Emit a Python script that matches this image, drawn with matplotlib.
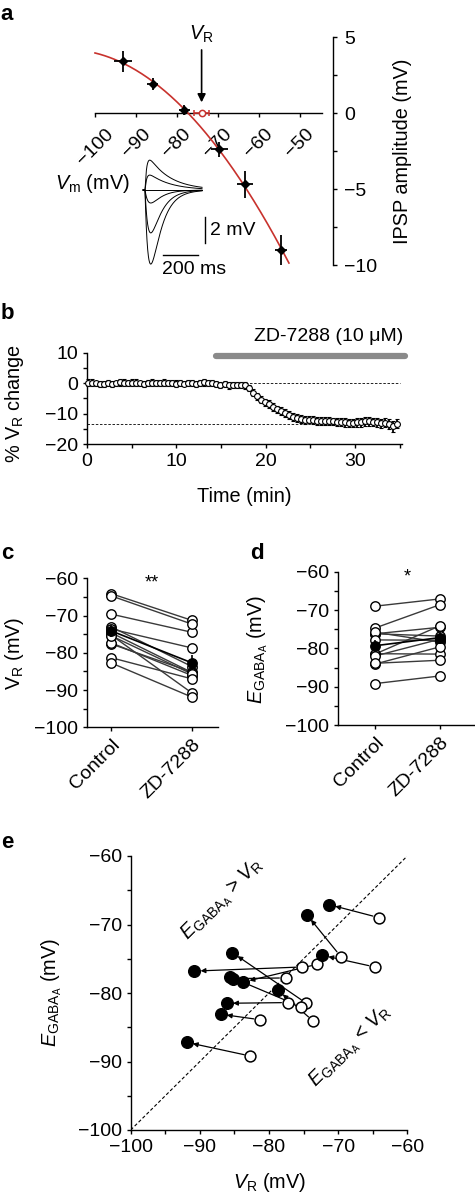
import numpy as np
import matplotlib
matplotlib.use("Agg")
import matplotlib.pyplot as plt
from matplotlib.ticker import MultipleLocator

plt.rcParams["font.family"] = ["Liberation Sans", "DejaVu Sans"]
plt.rcParams["mathtext.fontset"] = "custom"
plt.rcParams["mathtext.rm"] = "Liberation Sans"
plt.rcParams["mathtext.it"] = "Liberation Sans:italic"
plt.rcParams["mathtext.bf"] = "Liberation Sans:bold"
plt.rcParams["axes.linewidth"] = 1.0

# ---- panel a: IPSP amplitude vs Vm
a_vm = [-93.2, -85.9, -78.2, -69.7, -63.4, -54.6]
a_ipsp = [3.4, 1.9, 0.2, -2.4, -4.7, -9.0]
a_vm_err = [2.2, 1.3, 1.4, 2.1, 2.0, 1.4]
a_ipsp_err = [0.7, 0.4, 0.3, 0.5, 0.9, 1.0]
a_vr = -74.0
a_vr_err = 1.8
a_xticks = [-100, -90, -80, -70, -60, -50]
a_yticks = [5, 0, -5, -10]
# inset example traces (peak amplitude, mV)
trace_amp = [2.3, 1.15, 0.0, -1.0, -3.3, -5.7]

# ---- panel b: % VR change over time
b_t = 0.1 + 0.45 * np.arange(78)
b_val = [0.2, 0.1, -0.1, -0.3, -0.2, 0.0, -0.2, -0.1, 0.3, 0.2, 0.0, 0.1, 0.2, -0.1,
         -0.4, 0.0, 0.2, 0.1, 0.0, 0.2, 0.1, 0.0, -0.2, -0.1, -0.2, 0.0, 0.1, -0.3, 0.0,
         0.3, 0.1, 0.0, -0.3, -0.5, -0.4, -0.7, -0.6, -0.5, -0.6,
         -0.7, -1.6, -3.1, -4.3, -5.4, -6.3, -7.0, -7.9, -8.6, -9.2, -9.9, -10.6, -11.1,
         -11.5, -11.9,
         -12.1, -12.0, -12.2, -12.3, -12.4, -12.5, -12.5, -12.6, -12.7, -12.8, -12.9,
         -13.0, -13.1, -12.9, -12.8, -12.6, -12.5, -12.7, -12.9, -13.2, -13.0, -13.5,
         -14.2, -13.3]
b_err = [1.0, 1.1, 0.9, 1.0, 1.0, 1.1, 1.0, 0.9, 1.1, 1.0, 1.0, 1.1, 1.0, 0.9, 1.0,
         1.1, 1.0, 1.0, 0.9, 1.1, 1.0, 1.0, 1.1, 1.0, 0.9, 1.0, 1.0, 1.1, 1.0, 1.1,
         1.0, 1.0, 0.9, 1.0, 1.0, 1.1, 1.0, 1.0, 1.1,
         1.1, 1.1, 1.2, 1.2, 1.2, 1.2, 1.3, 1.3, 1.2, 1.3, 1.3, 1.3, 1.2, 1.3, 1.3,
         1.2, 1.2, 1.3, 1.3, 1.2, 1.3, 1.3, 1.2, 1.3, 1.3, 1.4, 1.3, 1.3, 1.4, 1.5,
         1.5, 1.5, 1.4, 1.4, 1.5, 1.4, 1.6, 1.7, 1.4]
b_ref = [0.0, -13.5]
b_drug = (14.5, 35.6)

# ---- panels c, d, e: paired cells (control -> ZD-7288)
vr_ctl = [-64.1, -69.6, -64.7, -75.2, -73.0, -77.6, -77.3, -74.6, -75.4, -73.6, -81.3, -82.7]
vr_zd = [-71.3, -74.5, -72.3, -90.8, -83.7, -85.2, -86.1, -85.3, -85.7, -78.7, -87.0, -91.9]
eg_ctl = [-69.0, -74.7, -76.2, -76.2, -75.8, -77.8, -81.4, -81.5, -82.0, -84.1, -83.9, -89.2]
eg_zd = [-67.1, -68.6, -74.5, -76.8, -78.4, -77.9, -81.5, -74.1, -77.6, -79.6, -83.1, -87.2]
conds = ["Control", "ZD-7288"]

W, H = 475, 1198
RED = "#c8322d"
FS = 14
LFS = 14.3
fig = plt.figure(figsize=(W / 100, H / 100), dpi=100)


def add_ax(l, t, r, b):
    return fig.add_axes([l / W, 1 - b / H, (r - l) / W, (b - t) / H])


def ftext(x, y, s, **kw):
    kw.setdefault("ha", "center")
    kw.setdefault("va", "center")
    kw.setdefault("fontsize", LFS)
    fig.text(x / W, 1 - y / H, s, **kw)


def minus(v):
    return f"{v:g}".replace("-", "\u2212")


def style(ax):
    for s in ["top", "right"]:
        ax.spines[s].set_visible(False)
    ax.tick_params(which="both", direction="out", length=3, width=1, labelsize=FS)


# ---------------- a
ax = add_ax(90.9, 29.4, 332.8, 280.2)
ax.set_xlim(-101, -42)
ax.set_ylim(-11, 5.5)
ax.spines["top"].set_visible(False)
ax.spines["left"].set_visible(False)
ax.spines["bottom"].set_position(("data", 0))
ax.spines["bottom"].set_bounds(-100, -44.6)
ax.spines["right"].set_bounds(-10, 5)
ax.yaxis.tick_right()
ax.set_yticks(a_yticks)
ax.set_yticklabels([minus(v) for v in a_yticks])
ax.yaxis.set_minor_locator(MultipleLocator(2.5))
ax.set_xticks(a_xticks)
ax.set_xticklabels([minus(v) for v in a_xticks], rotation=45, ha="center")
ax.tick_params(which="both", direction="out", length=3, width=1, labelsize=FS)
ax.tick_params(axis="x", pad=6)
ax.tick_params(axis="y", pad=5)

coef = np.polyfit(a_vm, a_ipsp, 2)
xs = np.linspace(-100, -52.7, 200)
ax.plot(xs, np.polyval(coef, xs), color=RED, lw=1.2, zorder=3)
ax.errorbar(a_vm, a_ipsp, xerr=a_vm_err, yerr=a_ipsp_err, fmt="D", color="k",
            ms=4.5, elinewidth=1.3, capsize=0, zorder=4)
ax.errorbar([a_vr], [0], xerr=[a_vr_err], fmt="o", mfc="white", mec=RED, ecolor=RED,
            ms=4.5, capsize=2, elinewidth=1.2, mew=1.1, zorder=5)
ax.annotate("", xy=(a_vr, 0.7), xytext=(a_vr, 4.15),
            arrowprops=dict(arrowstyle="-|>", color="k", lw=1.2, mutation_scale=12,
                            shrinkA=0, shrinkB=0))
ax.text(a_vr, 5.15, r"$V_\mathrm{R}$", ha="center", va="center", fontsize=LFS)

ftext(92, 183, r"$V_\mathrm{m}$ (mV)")
ftext(403, 151, "IPSP amplitude (mV)", rotation=90)
ftext(7, 14, "a", fontweight="bold", fontsize=16)

# inset traces
axi = add_ax(140, 150, 215, 275)
axi.set_xlim(-28.6, 400)
axi.set_ylim(-6.54, 3.08)
axi.axis("off")
tt = np.linspace(-11, 326, 500)
for amp in trace_amp:
    tr, td = (10.0, 120.0) if amp > 0 else (20.0, 60.0)
    k = np.where(tt > 0, np.exp(-tt / td) - np.exp(-tt / tr), 0.0)
    axi.plot(tt, amp * k / k.max(), color="k", lw=0.7)
axi.plot([343, 343], [-2.08, -4.08], color="k", lw=1)
axi.plot([103, 303], [-5.0, -5.0], color="k", lw=1)
axi.text(371, -3.1, "2 mV", ha="left", va="center", fontsize=FS)
axi.text(97, -6.15, "200 ms", ha="left", va="center", fontsize=FS)

# ---------------- b
ax = add_ax(87, 352.7, 402.2, 444)
style(ax)
ax.set_xlim(0, 35.3)
ax.set_ylim(-20, 10)
ax.set_xticks([0, 10, 20, 30])
ax.xaxis.set_minor_locator(MultipleLocator(5))
ax.set_yticks([10, 0, -10, -20])
ax.set_yticklabels([minus(v) for v in [10, 0, -10, -20]])
ax.yaxis.set_minor_locator(MultipleLocator(5))
for lv in b_ref:
    ax.plot([0, 35], [lv, lv], ls=(0, (3, 2)), color="k", lw=0.6, zorder=1)
ax.errorbar(b_t, b_val, yerr=b_err, fmt="o", ms=4.2, mfc="white", mec="k", mew=0.8,
            ecolor="k", elinewidth=1.3, capsize=1.5, capthick=1.1, zorder=3,
            clip_on=False)
ax.plot(b_drug, [8.8, 8.8], color="#8a8a8a", lw=4.5, solid_capstyle="round",
        clip_on=False)
ax.text(35.4, 15.4, "ZD-7288 (10 \u03bcM)", ha="right", va="center", fontsize=FS)
ftext(15, 403, r"% $\mathrm{V}_\mathrm{R}$ change", rotation=90)
ftext(244, 497, "Time (min)")
ftext(7, 313, "b", fontweight="bold", fontsize=16)


def paired(ax, ctl, zd, star):
    style(ax)
    ax.set_ylim(-100, -60)
    ax.set_yticks([-60, -70, -80, -90, -100])
    ax.set_yticklabels([minus(v) for v in [-60, -70, -80, -90, -100]])
    ax.yaxis.set_minor_locator(MultipleLocator(5))
    ax.set_xticks([0, 1])
    ax.set_xticklabels(conds, rotation=45, ha="right", va="top", rotation_mode="anchor")
    for c, z in zip(ctl, zd):
        ax.plot([0, 1], [c, z], color="#3a3a3a", lw=1, zorder=1)
    ax.plot([0] * len(ctl), ctl, "o", mfc="white", mec="k", ms=6.8, mew=1, zorder=2)
    ax.plot([1] * len(zd), zd, "o", mfc="white", mec="k", ms=6.8, mew=1, zorder=2)
    m = [np.mean(ctl), np.mean(zd)]
    e = [np.std(ctl, ddof=1) / np.sqrt(len(ctl)), np.std(zd, ddof=1) / np.sqrt(len(zd))]
    ax.errorbar([0, 1], m, yerr=e, fmt="o-", color="k", ms=6.8, lw=1.2, capsize=0,
                zorder=3)
    ax.text(0.5, -61.3, star, ha="center", va="center", fontsize=13)


# ---------------- c
ax = add_ax(87, 578.3, 218, 727.3)
ax.set_xlim(-0.296, 1.321)
paired(ax, vr_ctl, vr_zd, "**")
ftext(15, 653, r"$\mathrm{V}_\mathrm{R}$ (mV)", rotation=90)
ftext(7, 554, "c", fontweight="bold", fontsize=16)

# ---------------- d
ax = add_ax(338, 571.7, 475, 725)
ax.set_xlim(-0.569, 1.538)
paired(ax, eg_ctl, eg_zd, "*")
ftext(258, 650, r"$E_{\mathrm{GABA}_\mathrm{A}}$ (mV)", rotation=90)
ftext(257, 554, "d", fontweight="bold", fontsize=16)

# ---------------- e
ax = add_ax(130.7, 856, 407.3, 1130)
style(ax)
ax.set_xlim(-100, -60)
ax.set_ylim(-100, -60)
ticks = [-100, -90, -80, -70, -60]
ax.set_xticks(ticks)
ax.set_xticklabels([minus(v) for v in ticks])
ax.set_yticks(ticks)
ax.set_yticklabels([minus(v) for v in ticks])
ax.xaxis.set_minor_locator(MultipleLocator(5))
ax.yaxis.set_minor_locator(MultipleLocator(5))
ax.plot([-100, -60], [-100, -60], ls=(0, (3, 2)), color="k", lw=0.8, zorder=1)
for xc, yc, xz, yz in zip(vr_ctl, eg_ctl, vr_zd, eg_zd):
    ax.annotate("", xy=(xz, yz), xytext=(xc, yc),
                arrowprops=dict(arrowstyle="-|>", color="k", lw=0.9, mutation_scale=7,
                                shrinkA=4.5, shrinkB=4.5), zorder=2)
ax.plot(vr_ctl, eg_ctl, "o", mfc="white", mec="k", ms=7.8, mew=1.1, zorder=3)
ax.plot(vr_zd, eg_zd, "o", color="k", ms=8.4, zorder=4)
ax.text(-86.8, -66.4, r"$E_{\mathrm{GABA}_\mathrm{A}}$ > $V_\mathrm{R}$", rotation=45,
        ha="center", va="center", fontsize=LFS)
ax.text(-68.3, -87.8, r"$E_{\mathrm{GABA}_\mathrm{A}}$ < $V_\mathrm{R}$", rotation=45,
        ha="center", va="center", fontsize=LFS)
ftext(270, 1183, r"$V_\mathrm{R}$ (mV)")
ftext(52, 993, r"$E_{\mathrm{GABA}_\mathrm{A}}$ (mV)", rotation=90)
ftext(7, 843, "e", fontweight="bold", fontsize=16)

fig.savefig("out.png", dpi=100)
